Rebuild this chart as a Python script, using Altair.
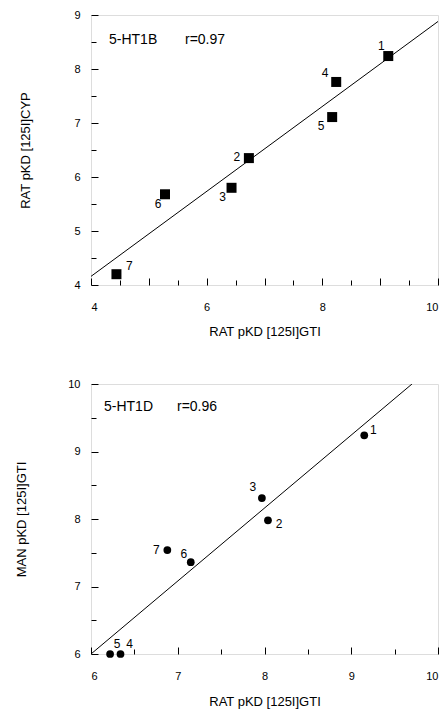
import altair as alt
import pandas as pd

# ---- data ----
b_id = ["1", "2", "3", "4", "5", "6", "7"]
b_x = [9.14, 6.73, 6.43, 8.24, 8.17, 5.28, 4.44]
b_y = [8.24, 6.35, 5.80, 7.76, 7.11, 5.68, 4.20]
b_line_x = [4.0, 10.0]
b_line_y = [4.16, 8.88]

d_id = ["1", "2", "3", "4", "5", "6", "7"]
d_x = [9.15, 8.04, 7.97, 6.34, 6.22, 7.15, 6.88]
d_y = [9.24, 7.98, 8.31, 6.00, 6.00, 7.36, 7.54]
d_line_x = [6.0, 9.70]
d_line_y = [6.0, 10.0]

b_xticks = [4, 6, 8, 10]
b_yticks = [4, 5, 6, 7, 8, 9]
d_xticks = [6, 7, 8, 9, 10]
d_yticks = [6, 7, 8, 9, 10]

FONT = "Liberation Sans"
W, H = 347, 270

# label offsets (pixels) for the point numbers
b_off = {"1": (-7, -10), "2": (-12, -1), "3": (-9, 9), "4": (-11, -9),
         "5": (-11, 9), "6": (-7, 10), "7": (13, -8)}
d_off = {"1": (9, -5), "2": (11, 4), "3": (-9, -11), "4": (9, -10),
         "5": (7, -10), "6": (-7, -8), "7": (-11, 0)}


def frange(a, b, step):
    out = []
    v = a
    while v <= b + 1e-9:
        out.append(round(v, 3))
        v += step
    return out


def tick_axis(vals, ln, orient):
    # axis drawn inside the frame: ticks only, pointing inward
    return alt.Axis(values=vals, orient=orient, offset=-ln, tickSize=ln, ticks=True,
                    tickColor="black", tickWidth=1, labels=False, domain=False,
                    grid=False, title=None)


def panel(ids, xs, ys, lx, ly, xdom, ydom, xt, yt, shape, size, ytitle, name, rval,
          name_x, r_x, ann_y, offs, x_lpad, x_tpad, y_tpad):
    df = pd.DataFrame({"id": ids, "x": xs, "y": ys})
    ldf = pd.DataFrame({"x": lx, "y": ly})
    xs_ = alt.Scale(domain=xdom, nice=False, zero=False)
    ys_ = alt.Scale(domain=ydom, nice=False, zero=False)

    xaxis = alt.Axis(values=xt, orient="bottom", ticks=False, domain=False, grid=False,
                     labelFontSize=11, labelFont=FONT, labelPadding=x_lpad,
                     labelFlush=True, labelOverlap=False, labelColor="black",
                     titleFont=FONT, titleFontSize=13,
                     titleFontWeight="normal", titlePadding=x_tpad, titleColor="black")
    yaxis = alt.Axis(values=yt, orient="left", ticks=False, domain=False, grid=False,
                     labelFontSize=11, labelFont=FONT, labelPadding=11,
                     labelFlush=False, labelOverlap=False, labelColor="black",
                     titleFont=FONT, titleFontSize=13,
                     titleFontWeight="normal", titlePadding=y_tpad, titleColor="black")
    xtitle = "RAT pKD [125I]GTI"

    halves_x = frange(xdom[0], xdom[1], 0.5)
    halves_y = frange(ydom[0], ydom[1], 0.5)
    xmaj = [v for v in halves_x if float(v).is_integer()]
    xmin = [v for v in halves_x if not float(v).is_integer()]
    ymaj = [v for v in halves_y if float(v).is_integer()]
    ymin = [v for v in halves_y if not float(v).is_integer()]

    line = alt.Chart(ldf).mark_line(color="black", strokeWidth=1, clip=True).encode(
        x=alt.X("x:Q", scale=xs_, axis=xaxis, title=xtitle),
        y=alt.Y("y:Q", scale=ys_, axis=yaxis, title=ytitle))
    pts = alt.Chart(df).mark_point(shape=shape, filled=True, color="black",
                                   size=size, opacity=1).encode(
        x=alt.X("x:Q", scale=xs_, axis=tick_axis(xmaj, 7, "bottom")),
        y=alt.Y("y:Q", scale=ys_, axis=tick_axis(ymaj, 7, "left")))

    labels = []
    for k, i in enumerate(ids):
        dx, dy = offs[i]
        if k == 0:
            xa = tick_axis(xmin, 5, "bottom")
            ya = tick_axis(ymin, 5, "left")
        else:
            xa = None
            ya = None
        labels.append(
            alt.Chart(df).transform_filter(alt.datum.id == i)
            .mark_text(fontSize=12, font=FONT, color="black", dx=dx, dy=dy)
            .encode(x=alt.X("x:Q", scale=xs_, axis=xa),
                    y=alt.Y("y:Q", scale=ys_, axis=ya), text="id:N"))

    one = pd.DataFrame({"a": [0]})
    ann1 = alt.Chart(one).mark_text(align="left", baseline="middle", fontSize=14,
                                    font=FONT, color="black").encode(
        x=alt.value(name_x), y=alt.value(ann_y), text=alt.value(name))
    ann2 = alt.Chart(one).mark_text(align="left", baseline="middle", fontSize=14,
                                    font=FONT, color="black").encode(
        x=alt.value(r_x), y=alt.value(ann_y), text=alt.value(rval))

    return alt.layer(line, pts, *labels, ann1, ann2
                     ).resolve_axis(x="independent", y="independent"
                     ).properties(width=W, height=H)


top = panel(b_id, b_x, b_y, b_line_x, b_line_y, [4, 10], [4, 9], b_xticks, b_yticks,
            "square", 100, "RAT pKD [125I]CYP", "5-HT1B", "r=0.97", 18, 94, 25,
            b_off, 16, 13, 41)
bottom = panel(d_id, d_x, d_y, d_line_x, d_line_y, [6, 10], [6, 10], d_xticks, d_yticks,
               "circle", 60, "MAN pKD [125I]GTI", "5-HT1D", "r=0.96", 13, 86, 23,
               d_off, 16, 14, 39)

chart = alt.vconcat(top, bottom, spacing=38).properties(
    padding={"left": 7, "top": 0, "right": 0, "bottom": 0}
).configure_view(
    stroke="black", strokeWidth=1
).configure(background="white")

chart.save("out.html", embed_options={"renderer": "svg", "actions": False})
